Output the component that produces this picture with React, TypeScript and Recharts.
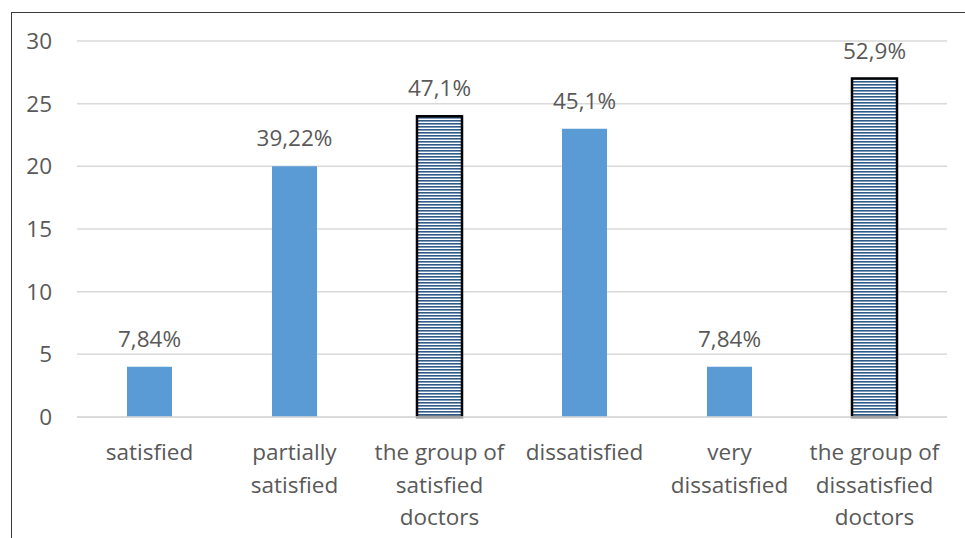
import React from "react";
import { BarChart, Bar, XAxis, YAxis, CartesianGrid, LabelList, Cell } from "recharts";

const categories = [
  "satisfied",
  "partially satisfied",
  "the group of satisfied doctors",
  "dissatisfied",
  "very dissatisfied",
  "the group of dissatisfied doctors",
];
const counts = [4, 20, 24, 23, 4, 27];
const percentLabels = ["7,84%", "39,22%", "47,1%", "45,1%", "7,84%", "52,9%"];
const yTicks = [0, 5, 10, 15, 20, 25, 30];

// how each category label wraps under the axis
const tickLines: Record<string, string[]> = {
  satisfied: ["satisfied"],
  "partially satisfied": ["partially", "satisfied"],
  "the group of satisfied doctors": ["the group of", "satisfied", "doctors"],
  dissatisfied: ["dissatisfied"],
  "very dissatisfied": ["very", "dissatisfied"],
  "the group of dissatisfied doctors": ["the group of", "dissatisfied", "doctors"],
};

const chartData = categories.map((name, i) => ({
  name,
  count: counts[i],
  label: percentLabels[i],
}));

const isGroup = (name: string) => name.startsWith("the group");

const FONT = "'Open Sans', Lato, sans-serif";
const TEXT = "#595959";
const SIZE = 22.5;

const CategoryTick = ({ x, y, payload }: any) => {
  const lines = tickLines[payload.value] ?? [payload.value];
  return (
    <text x={x} y={y} textAnchor="middle" fill={TEXT} fontSize={SIZE} fontFamily={FONT}>
      {lines.map((line, i) => (
        <tspan key={i} x={x} dy={i === 0 ? 43 : 32.5}>
          {line}
        </tspan>
      ))}
    </text>
  );
};

export default function App() {
  return (
    <div style={{ position: "absolute", left: 0, top: 0, width: 965, height: 538, background: "#fff", overflow: "hidden" }}>
      <div
        style={{
          position: "absolute",
          left: 11,
          top: 12,
          width: 970,
          height: 540,
          borderTop: "1.5px solid #3a3a3a",
          borderLeft: "1.5px solid #3a3a3a",
        }}
      />
      <div style={{ position: "absolute", left: 0, top: 0 }}>
        <BarChart width={965} height={538} data={chartData} margin={{ top: 41, right: 18, left: 0, bottom: 0 }}>
          <defs>
            <pattern id="hstripes" width="6" height="3" patternUnits="userSpaceOnUse">
              <rect width="6" height="3" fill="#ffffff" />
              <rect width="6" height="1.6" fill="#2e5b8a" />
            </pattern>
          </defs>
          <CartesianGrid vertical={false} stroke="#d9d9d9" strokeWidth={1.5} />
          <XAxis
            dataKey="name"
            interval={0}
            height={121}
            tickSize={0}
            tickMargin={0}
            axisLine={{ stroke: "#d9d9d9", strokeWidth: 1.5 }}
            tickLine={false}
            tick={<CategoryTick />}
          />
          <YAxis
            width={77}
            domain={[0, 30]}
            ticks={yTicks}
            axisLine={false}
            tickLine={false}
            tickSize={0}
            tickMargin={25}
            tick={{ fill: TEXT, fontSize: SIZE, fontFamily: FONT }}
          />
          <Bar dataKey="count" barSize={45} isAnimationActive={false}>
            {chartData.map((d, i) => (
              <Cell
                key={i}
                fill={isGroup(d.name) ? "url(#hstripes)" : "#5b9bd5"}
                stroke={isGroup(d.name) ? "#000000" : "none"}
                strokeWidth={isGroup(d.name) ? 2.5 : 0}
              />
            ))}
            <LabelList
              dataKey="label"
              position="top"
              offset={20}
              fill={TEXT}
              fontSize={SIZE}
              fontFamily={FONT}
            />
          </Bar>
        </BarChart>
      </div>
    </div>
  );
}
